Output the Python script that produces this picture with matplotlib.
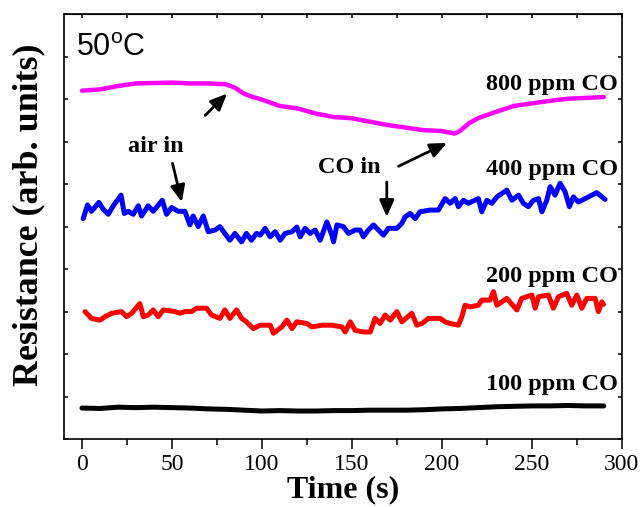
import matplotlib
matplotlib.use("Agg")
import matplotlib.pyplot as plt
from matplotlib.ticker import MultipleLocator

plt.rcParams["font.family"] = "Liberation Serif"
plt.rcParams["mathtext.fontset"] = "custom"
plt.rcParams["mathtext.rm"] = "Liberation Sans"

# 800 ppm CO
t_800 = [0, 10, 20, 30, 40, 50, 60, 70, 80, 85, 90, 95, 100, 110, 120, 130,
         140, 150, 160, 170, 180, 190, 200, 207, 210, 215, 220, 230, 240, 250,
         260, 270, 280, 290]
r_800 = [8.20, 8.23, 8.31, 8.37, 8.38, 8.39, 8.37, 8.37, 8.35, 8.27, 8.13, 8.05,
         7.99, 7.84, 7.78, 7.66, 7.58, 7.55, 7.47, 7.39, 7.33, 7.27, 7.25, 7.19,
         7.25, 7.43, 7.55, 7.70, 7.84, 7.90, 7.96, 8.01, 8.03, 8.05]

# 400 ppm CO
t_400 = [0.7, 3.1, 5.3, 9.4, 11.8, 14.6, 17.4, 21.7, 23.5, 25.7, 28.5, 31.3,
         33.1, 36.8, 39.6, 44.6, 47.0, 49.8, 53.5, 57.2, 60.0, 61.8, 64.6, 67.4,
         70.2, 73.9, 76.7, 79.4, 82.2, 85.0, 88.7, 91.4, 94.2, 97.0, 99.1, 101.8,
         104.6, 107.4, 110.2, 112.9, 116.7, 119.4, 121.3, 124.0, 126.8, 129.6,
         132.4, 136.1, 138.9, 139.8, 141.7, 145.3, 148.1, 151.8, 154.6, 156.4,
         159.2, 162.0, 164.8, 167.6, 170.3, 175.0, 177.8, 179.6, 182.4, 185.2,
         187.9, 193.5, 198.1, 201.8, 204.6, 207.4, 209.2, 212.0, 214.8, 220.3,
         222.2, 225.0, 227.8, 230.6, 236.1, 238.9, 242.6, 245.3, 248.1, 250.9,
         253.7, 255.6, 258.3, 260.2, 262.9, 265.7, 268.5, 270.9, 273.1, 275.9,
         279.6, 286.1, 290.7]
r_400 = [5.19, 5.51, 5.36, 5.57, 5.41, 5.29, 5.49, 5.74, 5.31, 5.36, 5.29, 5.49,
         5.25, 5.49, 5.36, 5.62, 5.29, 5.45, 5.36, 5.36, 5.04, 5.25, 5.00, 5.25,
         4.88, 4.92, 5.00, 4.84, 4.68, 4.84, 4.64, 4.84, 4.68, 4.84, 4.80, 4.96,
         4.76, 4.88, 4.68, 4.84, 4.88, 4.99, 4.76, 4.96, 4.84, 4.92,
         4.68, 5.11, 4.80, 4.64, 5.04, 5.00, 4.84, 4.92, 4.92, 4.76,
         4.92, 5.04, 4.92, 4.80, 4.96, 4.96, 5.08, 5.23, 5.31, 5.19,
         5.35, 5.39, 5.39, 5.66, 5.55, 5.66, 5.47, 5.62, 5.55, 5.66,
         5.35, 5.62, 5.55, 5.70, 5.86, 5.62, 5.74, 5.55, 5.47, 5.62,
         5.66, 5.35, 5.62, 5.94, 5.74, 6.02, 5.82, 5.47, 5.70, 5.58,
         5.66, 5.80, 5.64]

# 200 ppm CO
t_200 = [1.7, 5.3, 10.0, 12.8, 16.5, 22.0, 24.8, 27.6, 32.2, 34.1, 36.8, 39.6,
         42.4, 45.2, 51.7, 54.4, 57.2, 60.9, 63.7, 69.2, 72.0, 76.7, 79.4, 82.2,
         85.9, 88.7, 91.4, 95.2, 99.1, 104.6, 106.4, 111.1, 113.9, 116.7, 119.4,
         125.0, 127.8, 133.3, 138.9, 144.4, 146.3, 149.1, 151.8, 156.4, 160.2,
         162.9, 165.7, 168.5, 171.3, 175.0, 177.8, 183.3, 186.1, 188.9, 192.6,
         199.1, 201.8, 204.6, 209.2, 211.1, 212.9, 215.7, 220.3, 222.2, 226.8,
         228.7, 230.6, 236.1, 241.7, 244.4, 250.0, 251.9, 253.7, 259.2, 262.0,
         264.8, 269.4, 272.2, 275.0, 277.8, 280.5, 285.2, 287.0, 288.9, 289.8]
r_200 = [3.00, 2.84, 2.80, 2.88, 2.96, 3.00, 2.88, 2.96, 3.19, 2.88, 2.92, 3.04,
         2.88, 3.04, 3.00, 2.96, 3.00, 3.00, 3.08, 3.08, 2.92, 2.84, 3.04, 2.84,
         3.04, 2.84, 2.76, 2.60, 2.68, 2.68, 2.49, 2.64, 2.80, 2.60, 2.76,
         2.72, 2.64, 2.68, 2.68, 2.64, 2.52, 2.76, 2.56, 2.52, 2.52,
         2.84, 2.72, 2.92, 2.80, 3.00, 2.76, 2.96, 2.68, 2.72, 2.84,
         2.84, 2.76, 2.72, 2.68, 2.88, 3.15, 3.11, 3.15, 3.27, 3.27,
         3.47, 3.15, 3.31, 3.04, 3.31, 3.39, 3.08, 3.35, 3.39, 3.08,
         3.35, 3.43, 3.15, 3.39, 3.08, 3.31, 3.31, 3.00, 3.23, 3.17]

# 100 ppm CO
t_100 = [0, 10, 20, 30, 40, 50, 60, 70, 80, 90, 100, 110, 120, 130, 140, 150,
         160, 170, 180, 190, 200, 210, 220, 230, 240, 250, 260, 270, 280, 290]
r_100 = [0.73, 0.72, 0.75, 0.74, 0.75, 0.74, 0.73, 0.71, 0.70, 0.68, 0.66, 0.67,
         0.66, 0.66, 0.67, 0.67, 0.68, 0.68, 0.68, 0.69, 0.71, 0.72, 0.74, 0.76,
         0.77, 0.78, 0.78, 0.79, 0.78, 0.78]

fig = plt.figure(figsize=(6.43, 5.07), dpi=100)
ax = fig.add_axes([0.0995, 0.134, 0.8675, 0.838])

line_kw = dict(solid_joinstyle="round", solid_capstyle="round")
ax.plot(t_800, r_800, color="#ff00ff", linewidth=3.2, **line_kw)
ax.plot(t_400, r_400, color="#0000ff", linewidth=3.6, **line_kw)
ax.plot(t_200, r_200, color="#ff0000", linewidth=3.6, **line_kw)
ax.plot(t_100, r_100, color="black", linewidth=3.6, **line_kw)

ax.set_xlim(-10, 300)
ax.set_ylim(0, 10)
ax.xaxis.set_major_locator(MultipleLocator(50))
ax.xaxis.set_minor_locator(MultipleLocator(25))
ax.yaxis.set_major_locator(MultipleLocator(1))
ax.set_yticklabels([])

ax.tick_params(axis="x", which="major", direction="out", length=7, width=1.1,
               labelsize=17, pad=4)
ax.tick_params(axis="x", which="minor", direction="out", length=4, width=1.1)
ax.tick_params(axis="y", which="major", direction="in", length=3, width=1.1,
               left=True, right=True)
for side in ax.spines.values():
    side.set_linewidth(1.2)

# 上側の目盛りは内向きで短く
top = ax.secondary_xaxis("top")
top.xaxis.set_major_locator(MultipleLocator(25))
top.tick_params(direction="in", length=3, width=1.1, labelsize=0)
top.set_xticklabels([])

ax.set_xlabel("Time (s)", fontsize=23, fontweight="bold")
ax.xaxis.set_label_coords(0.5, -0.085)
ax.set_ylabel("Resistance (arb. units)", fontsize=25.8, fontweight="bold")
ax.yaxis.set_label_coords(-0.034, 0.527)

ax.text(-3.2, 9.02, r"50$^{\mathrm{o}}$C", fontsize=22, family="Liberation Sans",
        ha="left", va="baseline")

label_kw = dict(fontsize=17.5, fontweight="bold", ha="right", va="baseline")
ax.text(298, 8.21, "800 ppm CO", **label_kw)
ax.text(298, 6.21, "400 ppm CO", **label_kw)
ax.text(298, 3.70, "200 ppm CO", **label_kw)
ax.text(298, 1.15, "100 ppm CO", **label_kw)

ax.text(25.7, 6.75, "air in", fontsize=17.5, fontweight="bold", va="baseline")
ax.text(131.3, 6.26, "CO in", fontsize=17.5, fontweight="bold", va="baseline")

arrow_kw = dict(arrowstyle="-|>,head_length=0.5,head_width=0.22", color="black",
                lw=2.0, mutation_scale=20, shrinkA=0, shrinkB=0)
ax.annotate("", xy=(55.5, 5.58), xytext=(50.3, 6.49), arrowprops=arrow_kw)
ax.annotate("", xy=(80.6, 8.13), xytext=(68.5, 7.62), arrowprops=arrow_kw)
ax.annotate("", xy=(169.4, 5.23), xytext=(169.4, 6.05), arrowprops=arrow_kw)
ax.annotate("", xy=(202.8, 6.97), xytext=(175.9, 6.42), arrowprops=arrow_kw)

fig.savefig("out.png", dpi=100)
plt.close(fig)
